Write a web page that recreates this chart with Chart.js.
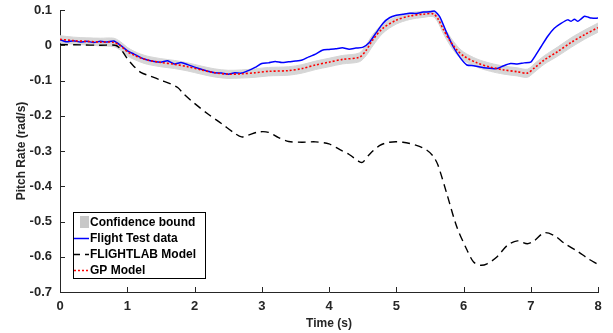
<!DOCTYPE html>
<html>
<head>
<meta charset="utf-8">
<script src="https://cdn.jsdelivr.net/npm/chart.js@4"></script>
<style>
  body { margin: 0; background: #fff; }
</style>
</head>
<body>
<canvas id="pitch" width="613" height="333"></canvas>
<script>
// data
const xTicks = [0, 1, 2, 3, 4, 5, 6, 7, 8];
const yTicks = [0.1, 0, -0.1, -0.2, -0.3, -0.4, -0.5, -0.6, -0.7];

const fltTime = [0, 0.1, 0.2, 0.3, 0.4, 0.5, 0.6, 0.7, 0.8, 0.9, 1.0, 1.1, 1.2, 1.3, 1.4, 1.5, 1.6, 1.7, 1.8, 1.9,
  2.0, 2.1, 2.2, 2.3, 2.4, 2.5, 2.6, 2.7, 2.8, 2.9, 3.0, 3.1, 3.2, 3.3, 3.4, 3.5, 3.6, 3.7, 3.8, 3.9,
  4.0, 4.1, 4.2, 4.3, 4.4, 4.5, 4.6, 4.7, 4.8, 4.9, 5.0, 5.1, 5.2, 5.3, 5.4, 5.5, 5.57, 5.65, 5.75, 5.85,
  5.95, 6.05, 6.15, 6.3, 6.5, 6.6, 6.7, 6.8, 6.9, 7.0, 7.05, 7.15, 7.25, 7.35, 7.45, 7.55, 7.6, 7.65,
  7.7, 7.75, 7.8, 7.85, 7.9, 8.0];
const fltRate = [0.016, 0.010, 0.013, 0.009, 0.011, 0.008, 0.011, 0.009, 0.012, 0.0, -0.015, -0.025, -0.035, -0.042, -0.046, -0.048, -0.044, -0.053, -0.049, -0.055,
  -0.062, -0.068, -0.074, -0.078, -0.079, -0.082, -0.078, -0.079, -0.072, -0.063, -0.052, -0.05, -0.046, -0.049, -0.047, -0.045, -0.042, -0.033, -0.025, -0.014,
  -0.012, -0.01, -0.007, -0.011, -0.008, -0.006, 0.008, 0.035, 0.062, 0.078, 0.085, 0.088, 0.091, 0.09, 0.094, 0.095, 0.097, 0.08, 0.035, -0.005,
  -0.035, -0.056, -0.058, -0.064, -0.066, -0.058, -0.052, -0.053, -0.05, -0.048, -0.035, -0.005, 0.025, 0.048, 0.062, 0.072, 0.068, 0.074,
  0.068, 0.075, 0.082, 0.08, 0.077, 0.077];

const flTime = [0, 0.3, 0.6, 0.82, 0.9, 1.0, 1.1, 1.2, 1.35, 1.5, 1.65, 1.75, 1.85, 2.0, 2.2, 2.4, 2.6, 2.7, 2.8, 2.95,
  3.1, 3.25, 3.4, 3.6, 3.8, 4.0, 4.15, 4.3, 4.45, 4.5, 4.6, 4.75, 4.9, 5.1, 5.3, 5.45, 5.55, 5.62, 5.75, 5.9,
  6.05, 6.15, 6.25, 6.35, 6.5, 6.65, 6.8, 6.95, 7.05, 7.2, 7.35, 7.5, 7.7, 7.85, 8.0];
const flRate = [0.002, 0.001, 0.0, 0.0, -0.01, -0.038, -0.06, -0.077, -0.088, -0.099, -0.11, -0.12, -0.14, -0.165, -0.195, -0.222, -0.25, -0.26, -0.255, -0.246,
  -0.247, -0.262, -0.273, -0.275, -0.274, -0.28, -0.295, -0.31, -0.33, -0.332, -0.31, -0.285, -0.275, -0.275, -0.284, -0.297, -0.315, -0.34, -0.42, -0.515,
  -0.58, -0.615, -0.624, -0.62, -0.6, -0.568, -0.555, -0.563, -0.555, -0.532, -0.54, -0.562, -0.585, -0.605, -0.622];

const gpTime = [0, 0.2, 0.4, 0.6, 0.8, 0.9, 1.0, 1.1, 1.2, 1.3, 1.5, 1.7, 1.9, 2.1, 2.3, 2.5, 2.7, 2.9, 3.1, 3.4,
  3.6, 3.8, 4.0, 4.2, 4.45, 4.55, 4.65, 4.8, 5.0, 5.2, 5.4, 5.55, 5.62, 5.7, 5.8, 5.9, 6.0, 6.2, 6.4, 6.6,
  6.8, 6.95, 7.05, 7.2, 7.4, 7.6, 7.8, 8.0];
const gpRate = [0.017, 0.013, 0.011, 0.009, 0.008, -0.002, -0.018, -0.028, -0.036, -0.042, -0.049, -0.054, -0.061, -0.07, -0.078, -0.082, -0.081, -0.078, -0.074, -0.072,
  -0.066, -0.056, -0.048, -0.04, -0.034, -0.015, 0.015, 0.048, 0.071, 0.083, 0.088, 0.089, 0.075, 0.045, 0.012, -0.013, -0.03, -0.05, -0.062, -0.07,
  -0.075, -0.079, -0.065, -0.042, -0.018, 0.008, 0.03, 0.05];
const gpUpper = [0.027, 0.023, 0.021, 0.02, 0.02, 0.01, -0.006, -0.017, -0.025, -0.031, -0.038, -0.043, -0.05, -0.059, -0.067, -0.071, -0.07, -0.067, -0.063, -0.061,
  -0.055, -0.045, -0.037, -0.029, -0.022, 0.0, 0.03, 0.06, 0.081, 0.092, 0.096, 0.097, 0.085, 0.056, 0.024, -0.001, -0.019, -0.039, -0.051, -0.059,
  -0.064, -0.068, -0.053, -0.03, -0.005, 0.021, 0.043, 0.063];
const gpLower = [0.007, 0.003, 0.001, -0.002, -0.004, -0.014, -0.03, -0.04, -0.048, -0.054, -0.061, -0.066, -0.073, -0.082, -0.09, -0.094, -0.093, -0.091, -0.087, -0.085,
  -0.079, -0.069, -0.061, -0.053, -0.047, -0.03, -0.002, 0.034, 0.06, 0.073, 0.079, 0.081, 0.065, 0.033, 0.0, -0.026, -0.043, -0.062, -0.074, -0.082,
  -0.087, -0.091, -0.077, -0.054, -0.031, -0.006, 0.017, 0.037];

function pts(xs, ys) {
  return xs.map((x, i) => ({ x: x, y: ys[i] }));
}

const axisColor = '#262626';
const bandColor = 'rgb(214,214,214)';

// inward tick marks and the boxed legend, matlab style
const extras = {
  id: 'extras',
  afterDraw(chart) {
    const ctx = chart.ctx;
    const a = chart.chartArea;
    const xs = chart.scales.x, ys = chart.scales.y;
    ctx.save();
    ctx.strokeStyle = axisColor;
    ctx.lineWidth = 1;
    ctx.beginPath();
    xTicks.forEach(v => {
      const px = Math.round(xs.getPixelForValue(v)) + 0.5;
      ctx.moveTo(px, a.bottom);
      ctx.lineTo(px, a.bottom - 5);
    });
    yTicks.forEach(v => {
      const py = Math.round(ys.getPixelForValue(v)) + 0.5;
      ctx.moveTo(a.left, py);
      ctx.lineTo(a.left + 5, py);
    });
    ctx.stroke();

    // legend
    const bx = 73.5, by = 212.5, bw = 132, bh = 66;
    ctx.fillStyle = '#fff';
    ctx.fillRect(bx, by, bw, bh);
    ctx.strokeStyle = '#000';
    ctx.strokeRect(bx, by, bw, bh);
    const items = [
      { label: 'Confidence bound', kind: 'box' },
      { label: 'Flight Test data', color: 'rgb(0,0,255)', dash: [] },
      { label: 'FLIGHTLAB Model', color: '#000', dash: [6, 5] },
      { label: 'GP Model', color: 'rgb(255,0,0)', dash: [2, 2] }
    ];
    ctx.font = 'bold 12px "Liberation Sans", Arial, sans-serif';
    ctx.textBaseline = 'middle';
    items.forEach((it, i) => {
      const cy = 222 + i * 16;
      if (it.kind === 'box') {
        ctx.fillStyle = 'rgb(200,200,200)';
        ctx.fillRect(80, cy - 6, 9, 12);
      } else {
        ctx.strokeStyle = it.color;
        ctx.lineWidth = 1.5;
        ctx.setLineDash(it.dash);
        ctx.beginPath();
        ctx.moveTo(74, cy + 0.5);
        ctx.lineTo(89, cy + 0.5);
        ctx.stroke();
        ctx.setLineDash([]);
      }
      ctx.fillStyle = '#000';
      ctx.fillText(it.label, 90, cy + 1);
    });
    ctx.restore();
  }
};

const ctxPitch = document.getElementById('pitch').getContext('2d');

const chartPitch = new Chart(ctxPitch, {
  type: 'line',
  data: {
    datasets: [
      {
        label: 'GP Model',
        data: pts(gpTime, gpRate),
        borderColor: 'rgb(255,0,0)',
        borderWidth: 1.6,
        borderDash: [2, 2],
        tension: 0.3,
        order: 0
      },
      {
        label: 'Flight Test data',
        data: pts(fltTime, fltRate),
        borderColor: 'rgb(0,0,255)',
        borderWidth: 1.5,
        tension: 0.2,
        order: 1
      },
      {
        label: 'FLIGHTLAB Model',
        data: pts(flTime, flRate),
        borderColor: '#000',
        borderWidth: 1.4,
        borderDash: [8, 5],
        tension: 0.3,
        order: 2
      },
      {
        label: 'Confidence bound',
        data: pts(gpTime, gpUpper),
        borderColor: bandColor,
        borderWidth: 1,
        backgroundColor: bandColor,
        fill: '+1',
        tension: 0.3,
        order: 3
      },
      {
        label: 'lower',
        data: pts(gpTime, gpLower),
        borderColor: bandColor,
        borderWidth: 1,
        backgroundColor: bandColor,
        fill: false,
        tension: 0.3,
        order: 4
      }
    ]
  },
  options: {
    responsive: false,
    animation: false,
    devicePixelRatio: 1,
    layout: { padding: { left: 0, right: 15, top: 10, bottom: 0 } },
    elements: { point: { radius: 0 } },
    plugins: {
      legend: { display: false },
      tooltip: { enabled: false }
    },
    scales: {
      x: {
        type: 'linear',
        min: 0,
        max: 8,
        afterFit: s => { s.height = 41; s.paddingLeft = 0; s.paddingRight = 0; },
        afterBuildTicks: s => { s.ticks = xTicks.map(v => ({ value: v })); },
        grid: { display: true, drawOnChartArea: false, drawTicks: false },
        border: { color: axisColor, width: 1 },
        ticks: {
          padding: 7,
          color: axisColor,
          font: { family: '"Liberation Sans", Arial, sans-serif', size: 13, weight: 'bold' },
          maxRotation: 0
        },
        title: {
          display: true,
          text: 'Time (s)',
          color: axisColor,
          font: { family: '"Liberation Sans", Arial, sans-serif', size: 12, weight: 'bold' },
          padding: { top: 0, bottom: 2 }
        }
      },
      y: {
        type: 'linear',
        min: -0.7,
        max: 0.1,
        afterFit: s => { s.width = 60; s.paddingTop = 0; s.paddingBottom = 0; },
        afterBuildTicks: s => { s.ticks = yTicks.map(v => ({ value: v })); },
        grid: { display: true, drawOnChartArea: false, drawTicks: false },
        border: { color: axisColor, width: 1 },
        ticks: {
          padding: 8,
          color: axisColor,
          font: { family: '"Liberation Sans", Arial, sans-serif', size: 13, weight: 'bold' },
          callback: v => String(Number(v.toFixed(1)))
        },
        title: {
          display: true,
          text: 'Pitch Rate (rad/s)',
          color: axisColor,
          font: { family: '"Liberation Sans", Arial, sans-serif', size: 12, weight: 'bold' },
          padding: { top: 14, bottom: 0 }
        }
      }
    }
  },
  plugins: [extras]
});
</script>
</body>
</html>
